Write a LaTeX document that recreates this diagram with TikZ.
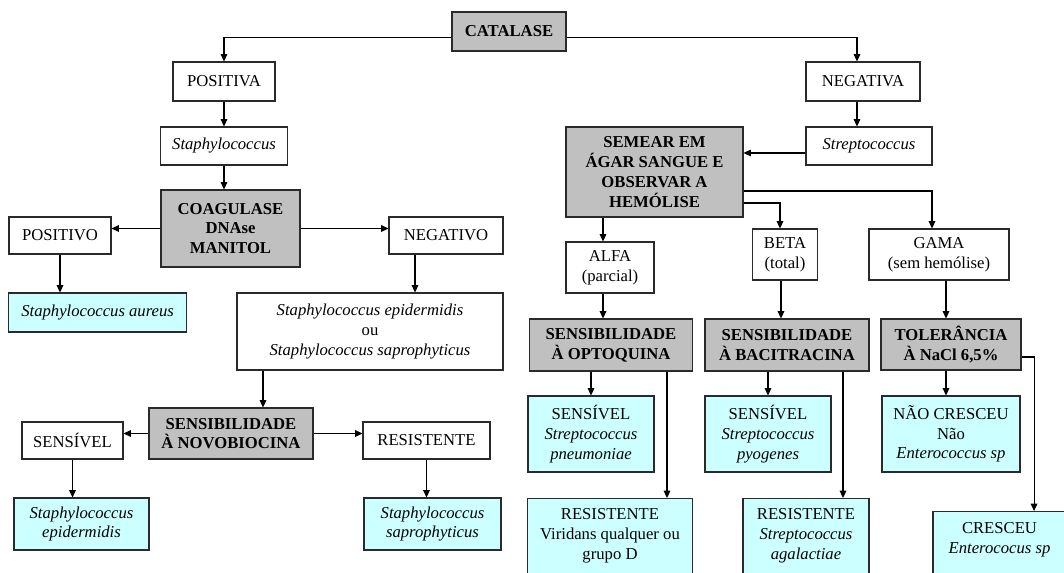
\documentclass[tikz,border=0pt]{standalone}
\usepackage{fontspec}
\setmainfont{Liberation Serif}
\usetikzlibrary{arrows.meta}
\definecolor{boxgray}{HTML}{C0C0C0}
\definecolor{boxcyan}{HTML}{CCFFFF}
\definecolor{edgecol}{HTML}{2A2A2A}
\begin{document}
\begin{tikzpicture}[x=0.75pt,y=-0.75pt,
  base/.style={draw=edgecol, line width=0.8pt, inner sep=0pt, align=center, font=\fontsize{12.5pt}{14.8pt}\selectfont},
  wbox/.style={base, fill=white},
  gbox/.style={base, fill=boxgray, font=\fontsize{12.5pt}{14.8pt}\selectfont\bfseries},
  cbox/.style={base, fill=boxcyan},
  bbox/.style={draw=edgecol, line width=0.8pt, inner sep=0pt, fill=boxcyan, font=\fontsize{12.5pt}{14.8pt}\selectfont},
  sz/.style 2 args={minimum width=#1*0.75pt, minimum height=#2*0.75pt},
  arr/.style={draw=black, line width=0.8pt, -{Triangle[length=5.5pt,width=5pt]}}
]
\useasboundingbox (0,0) rectangle (1064,573);
\clip (0,0) rectangle (1064,573);

% left branch
\node[gbox, sz={114}{39}] (cat) at (509,31.5) {CATALASE};
\node[wbox, sz={102}{39}] (pos) at (224,81.5) {POSITIVA};
\node[wbox, sz={126.5}{38}] (staph) at (224,146) {\textit{Staphylococcus}};
\node[gbox, sz={139}{77}] (coag) at (230.5,228.5) {COAGULASE\\DNAse\\MANITOL};
\node[wbox, sz={102}{37}] (positivo) at (60,235.5) {POSITIVO};
\node[wbox, sz={114}{37}] (negativo) at (446,235.5) {NEGATIVO};
\node[cbox, sz={178}{39}] (aureus) at (97.6,312.5) {\textit{Staphylococcus aureus}};
\node[wbox, sz={266}{77}] (episap) at (370,331.5) {\textit{Staphylococcus epidermidis}\\ou\\\textit{Staphylococcus saprophyticus}};
\node[gbox, sz={164}{51}] (novo) at (231,433.5) {SENSIBILIDADE\\À NOVOBIOCINA};
\node[wbox, sz={101}{37}] (sens) at (72.5,440.5) {SENSÍVEL};
\node[wbox, sz={127}{37}] (resist) at (426.5,440.5) {RESISTENTE};
\node[cbox, sz={135}{52}] (epi) at (81.5,524) {\textit{Staphylococcus}\\\textit{epidermidis}};
\node[cbox, sz={137}{52}] (sap) at (432.5,524) {\textit{Staphylococcus}\\\textit{saprophyticus}};

% right branch
\node[wbox, sz={114}{39}] (neg) at (863,81.5) {NEGATIVA};
\node[wbox, sz={126}{38}] (strep) at (869,146) {\textit{Streptococcus}};
\node[gbox, sz={177}{90}] (semear) at (654.5,172) {SEMEAR EM\\ÁGAR SANGUE E\\OBSERVAR A\\HEMÓLISE};
\node[wbox, sz={88}{51}] (alfa) at (610,267.5) {ALFA\\(parcial)};
\node[wbox, sz={65.5}{51}] (beta) at (785,254.5) {BETA\\(total)};
\node[wbox, sz={140}{51}] (gama) at (939,254.5) {GAMA\\(sem hemólise)};
\node[gbox, sz={163.5}{52}] (opto) at (611,345) {SENSIBILIDADE\\À OPTOQUINA};
\node[gbox, sz={164}{52}] (bac) at (787,345) {SENSIBILIDADE\\À BACITRACINA};
\node[gbox, sz={140}{51}] (tol) at (951,344.5) {TOLERÂNCIA\\À NaCl 6,5\%};
\node[cbox, sz={126}{76}] (sopto) at (591,434) {SENSÍVEL\\\textit{Streptococcus}\\\textit{pneumoniae}};
\node[cbox, sz={126}{76}] (sbac) at (768,434) {SENSÍVEL\\\textit{Streptococcus}\\\textit{pyogenes}};
\node[cbox, sz={138}{76}] (ncres) at (951,434) {NÃO CRESCEU\\Não\\\textit{Enterococcus sp}};
\node[bbox, anchor=north] (ropto) at (610,498) {\parbox[c][60pt][t]{123.4pt}{\centering\vspace*{7.5pt}RESISTENTE\\Viridans qualquer ou\\grupo D}};
\node[bbox, anchor=north] (rbac) at (806,498) {\parbox[c][60pt][t]{94.5pt}{\centering\vspace*{7.5pt}RESISTENTE\\\textit{Streptococcus}\\\textit{agalactiae}}};
\node[bbox, anchor=north] (cres) at (999.5,511) {\parbox[c][50pt][t]{99.75pt}{\centering\vspace*{8.4pt}CRESCEU\\\textit{Enterococus sp}}};

% connectors, left
\draw[arr] ([yshift=-4.5pt]cat.west) -| (pos.north);
\draw[arr] ([yshift=-4.5pt]cat.east) -| ([xshift=-4.5pt]neg.north);
\draw[arr] (pos.south) -- (staph.north);
\draw[arr] (staph.south) -- (staph.south |- coag.north);
\draw[arr] (coag.west) -- (coag.west -| positivo.east);
\draw[arr] (coag.east) -- (coag.east -| negativo.west);
\draw[arr] (positivo.south) -- (positivo.south |- aureus.north);
\draw[arr] ([xshift=-23.25pt]negativo.south) -- ([xshift=-23.25pt]negativo.south |- episap.north);
\draw[arr] ([xshift=-80.25pt]episap.south) -- ([xshift=-80.25pt]episap.south |- novo.north);
\draw[arr] (novo.west) -- (novo.west -| sens.east);
\draw[arr] (novo.east) -- (novo.east -| resist.west);
\draw[arr] (sens.south) -- (sens.south |- epi.north);
\draw[arr] (resist.south) -- (resist.south |- sap.north);

% connectors, right
\draw[arr] ([xshift=-4.5pt]neg.south) -- ([xshift=-4.5pt]neg.south |- strep.north);
\draw[arr] ([yshift=-5.25pt]strep.west) -- ([yshift=-5.25pt]strep.west -| semear.east);
\draw[arr] ([xshift=-5.25pt]alfa.north |- semear.south) -- ([xshift=-5.25pt]alfa.north);
\draw[arr] ([yshift=-23.25pt]semear.east) -| ([xshift=-3.75pt]beta.north);
\draw[arr] ([yshift=-14.25pt]semear.east) -| ([xshift=-5.25pt]gama.north);
\draw[arr] ([xshift=-5.25pt]alfa.south) -- ([xshift=-5.25pt]alfa.south |- opto.north);
\draw[arr] ([xshift=-3pt]beta.south) -- ([xshift=-3pt]beta.south |- bac.north);
\draw[arr] ([xshift=5.25pt]gama.south) -- ([xshift=5.25pt]gama.south |- tol.north);
\draw[arr] (sopto.north |- opto.south) -- (sopto.north);
\draw[arr] ([xshift=42.75pt]ropto.north |- opto.south) -- ([xshift=42.75pt]ropto.north);
\draw[arr] (sbac.north |- bac.south) -- (sbac.north);
\draw[arr] ([xshift=27.75pt]rbac.north |- bac.south) -- ([xshift=27.75pt]rbac.north);
\draw[arr] ([xshift=-3.75pt]ncres.north |- tol.south) -- ([xshift=-3.75pt]ncres.north);
\draw[arr] ([yshift=-9.4pt]tol.east) -| ([xshift=25.9pt]cres.north);
\end{tikzpicture}
\end{document}
